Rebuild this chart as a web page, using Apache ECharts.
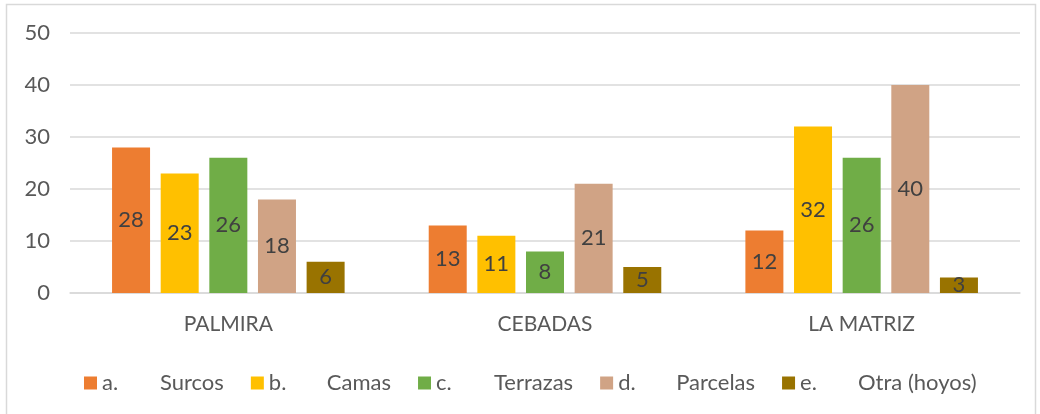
<!DOCTYPE html>
<html>
<head>
<meta charset="utf-8">
<script src="https://cdn.jsdelivr.net/npm/echarts@6/dist/echarts.min.js"></script>
<style>
  html, body { margin: 0; padding: 0; background: #fff; }
  #chart { width: 1040px; height: 414px; }
</style>
</head>
<body>
<div id="chart"></div>
<script>
// categories and series values
const sites = ['PALMIRA', 'CEBADAS', 'LA MATRIZ']
const prefixes = ['a.', 'b.', 'c.', 'd.', 'e.']
const labels = ['Surcos', 'Camas', 'Terrazas', 'Parcelas', 'Otra (hoyos)']
const surcos = [28, 13, 12]
const camas = [23, 11, 32]
const terrazas = [26, 8, 26]
const parcelas = [18, 21, 40]
const otra = [6, 5, 3]
const colors = ['#ED7D31', '#FFC000', '#70AD47', '#D0A385', '#997300']

const font = "Lato, 'Open Sans', sans-serif"
const chart = echarts.init(document.getElementById('chart'))

const mk = (i, data) => ({
  name: prefixes[i] + ' ' + labels[i],
  type: 'bar',
  barWidth: 38,
  barGap: '28%',
  data: data,
  label: {
    show: true,
    position: 'inside',
    color: '#404040',
    fontSize: 22,
    fontFamily: font
  }
})

chart.setOption({
  animation: false,
  color: colors,
  graphic: [{
    type: 'rect',
    shape: { x: 6.5, y: 4.5, width: 1029, height: 420 },
    style: { fill: 'none', stroke: '#d9d9d9', lineWidth: 1.5 },
    silent: true
  }],
  grid: { left: 70, right: 20, top: 33, bottom: 121 },
  legend: {
    left: 79,
    top: 367,
    itemWidth: 13,
    itemHeight: 13,
    itemGap: 27,
    icon: 'rect',
    formatter: (name) => {
      const k = name.indexOf(' ')
      return '{p|' + name.slice(0, k) + '}{t|' + name.slice(k + 1) + '}'
    },
    textStyle: {
      color: '#595959', fontSize: 22, fontFamily: font,
      rich: {
        p: { width: 58, color: '#595959', fontSize: 22, fontFamily: font },
        t: { color: '#595959', fontSize: 22, fontFamily: font }
      }
    }
  },
  xAxis: {
    type: 'category',
    data: sites,
    axisLine: { lineStyle: { color: '#d9d9d9', width: 1.5 } },
    axisTick: { show: false },
    axisLabel: { color: '#595959', fontSize: 21, fontFamily: font, margin: 21 }
  },
  yAxis: {
    type: 'value',
    min: 0,
    max: 50,
    interval: 10,
    axisLine: { show: false },
    axisTick: { show: false },
    splitLine: { lineStyle: { color: '#d9d9d9', width: 1.5 } },
    axisLabel: { color: '#595959', fontSize: 22, fontFamily: font, margin: 20 }
  },
  series: [
    mk(0, surcos),
    mk(1, camas),
    mk(2, terrazas),
    mk(3, parcelas),
    mk(4, otra)
  ]
})
</script>
</body>
</html>
